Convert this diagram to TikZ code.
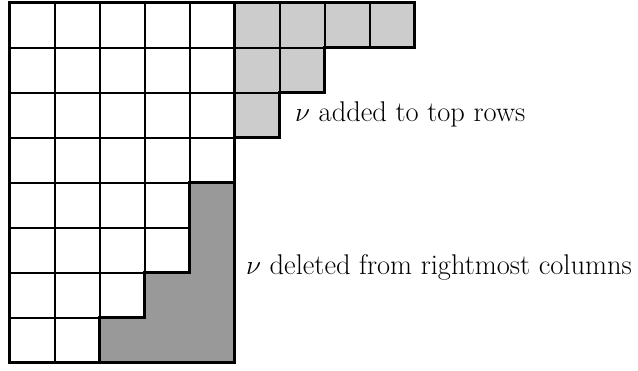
\documentclass[tikz,border=0pt]{standalone}
\begin{document}
\begin{tikzpicture}[x=1cm,y=1cm,
  cellline/.style={line width=0.9pt},
  outline/.style={line width=1.9pt, line join=miter},
  lbl/.style={inner sep=0pt, anchor=base west, font=\fontsize{18}{21}\selectfont}]
\useasboundingbox (-0.222,0.0667) rectangle (13.956,-8.156);
% fills
\fill[gray!40] (5,0) -- (9,0) -- (9,-1) -- (7,-1) -- (7,-2) -- (6,-2) -- (6,-3) -- (5,-3) -- cycle;
\fill[gray!80] (5,-4) -- (5,-8) -- (2,-8) -- (2,-7) -- (3,-7) -- (3,-6) -- (4,-6) -- (4,-4) -- cycle;
% thin cells
\foreach \r/\n in {0/5,1/5,2/5,3/5,4/4,5/4,6/3,7/2}{
  \foreach \c in {1,...,\n}{
    \draw[cellline] (\c-1,-\r) rectangle (\c,-\r-1);
  }
}
\foreach \r/\a/\b in {0/5/8,1/5/6,2/5/5}{
  \foreach \c in {\a,...,\b}{
    \draw[cellline] (\c,-\r) rectangle (\c+1,-\r-1);
  }
}
% thick outlines
\draw[outline] (0,0) rectangle (5,-8);
\draw[outline] (5,0) -- (9,0) -- (9,-1) -- (7,-1) -- (7,-2) -- (6,-2) -- (6,-3) -- (5,-3);
\draw[outline] (5,-4) -- (4,-4) -- (4,-6) -- (3,-6) -- (3,-7) -- (2,-7) -- (2,-8);
% labels
\node[lbl] (added) at (6.33,-2.64) {$\nu$ added to top rows};
\node[lbl] (deleted) at (5.24,-6.04) {$\nu$ deleted from rightmost columns};
\end{tikzpicture}
\end{document}
